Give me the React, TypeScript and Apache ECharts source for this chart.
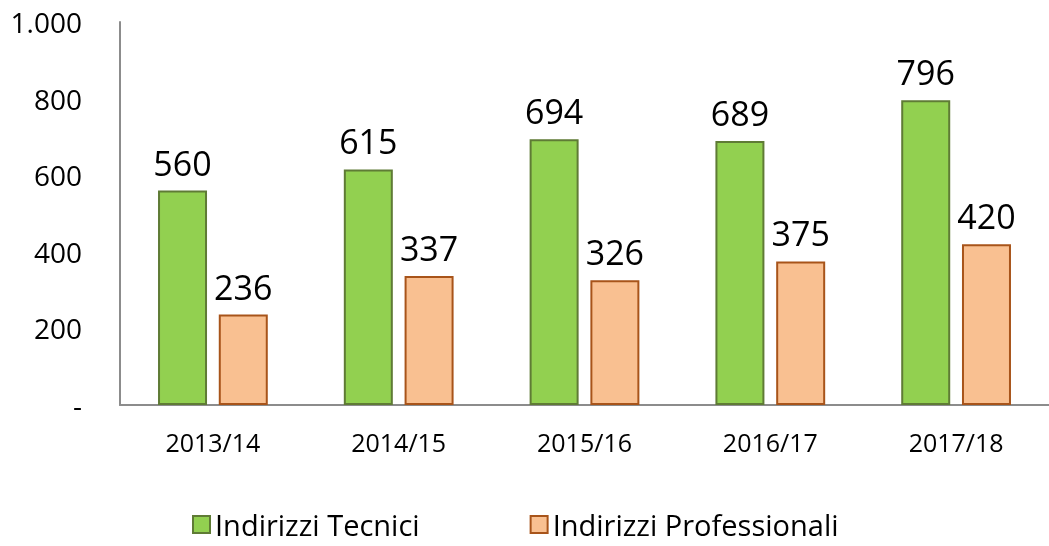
import React, { useEffect, useRef } from "react";
import * as echarts from "echarts";

const categories = ["2013/14", "2014/15", "2015/16", "2016/17", "2017/18"];
const tecnici = [560, 615, 694, 689, 796];
const professionali = [236, 337, 326, 375, 420];
const seriesNames = ["Indirizzi Tecnici", "Indirizzi Professionali"];

const FONT = "'Open Sans', 'Noto Sans', sans-serif";

export default function App() {
  const ref = useRef<HTMLDivElement>(null);
  useEffect(() => {
    if (!ref.current) return;
    const chart = echarts.init(ref.current, null, { renderer: "svg" });
    chart.setOption({
      animation: false,
      textStyle: { fontFamily: FONT, color: "#000" },
      legend: {
        bottom: 2,
        left: 187,
        icon: "rect",
        itemWidth: 17,
        itemHeight: 17,
        itemGap: 110,
        textStyle: { fontSize: 29, color: "#000", fontFamily: FONT },
        data: seriesNames,
      },
      grid: { left: 120, right: 0, top: 22, bottom: 141 },
      xAxis: {
        type: "category",
        data: categories,
        axisLine: { lineStyle: { color: "#8c8c8c", width: 2 } },
        axisTick: { show: false },
        axisLabel: { fontSize: 25, color: "#000", margin: 24, fontFamily: FONT },
      },
      yAxis: {
        type: "value",
        min: 0,
        max: 1000,
        interval: 200,
        axisLine: { show: true, lineStyle: { color: "#8c8c8c", width: 2 } },
        axisTick: { show: false },
        splitLine: { show: false },
        axisLabel: {
          fontSize: 28,
          color: "#000",
          margin: 38,
          fontFamily: FONT,
          formatter: (v: number) => (v === 0 ? "-" : v >= 1000 ? "1.000" : String(v)),
        },
      },
      series: [
        {
          name: seriesNames[0],
          type: "bar",
          data: tecnici,
          barWidth: 49,
          barGap: "24%",
          itemStyle: { color: "#92D050", borderColor: "#5F7B35", borderWidth: 2 },
          label: { show: true, position: "top", distance: 11, fontSize: 34, color: "#000", fontFamily: FONT },
        },
        {
          name: seriesNames[1],
          type: "bar",
          data: professionali,
          barWidth: 49,
          itemStyle: { color: "#F9C091", borderColor: "#A8541A", borderWidth: 2 },
          label: { show: true, position: "top", distance: 11, fontSize: 34, color: "#000", fontFamily: FONT },
        },
      ],
    });
    return () => chart.dispose();
  }, []);
  return <div ref={ref} style={{ position: "fixed", left: 0, top: 0, width: 1049, height: 546 }} />;
}
